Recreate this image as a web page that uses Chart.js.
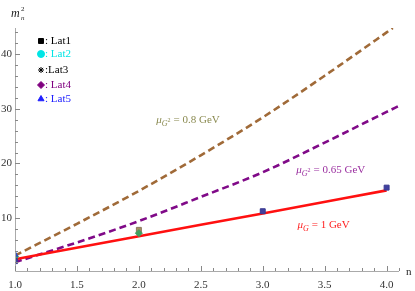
<!DOCTYPE html>
<html>
<head>
<meta charset="utf-8">
<script src="https://cdn.jsdelivr.net/npm/chart.js@4"></script>
<style>
  body { margin: 0; background: #fff; }
  #wrap { width: 415px; height: 291px; }
</style>
</head>
<body>
<div id="wrap"><canvas id="myChart" width="415" height="291"></canvas></div>
<script>
// tick labels
var xTicks = [1.0, 1.5, 2.0, 2.5, 3.0, 3.5, 4.0];
var yTicks = [10, 20, 30, 40];

// curves (n, m_n^2)
var brownN = [1, 1.5, 2, 2.5, 3, 3.5, 4, 4.05];
var brownM2 = [3.2, 9.0, 15.0, 21.5, 28.4, 36.0, 43.9, 44.7];
var purpleN = [1, 1.5, 2, 2.5, 3, 3.5, 4, 4.1];
var purpleM2 = [2.0, 5.6, 9.5, 13.9, 18.4, 23.8, 29.4, 30.5];
var redN = [1, 2, 3, 4];
var redM2 = [2.55, 6.75, 10.9, 15.1];

// lattice points
var blueSqN = [1, 3, 4];
var blueSqM2 = [2.2, 11.3, 15.6];
var tanSqN = [1, 2];
var tanSqM2 = [2.4, 7.9];
var greenN = [1, 2];
var greenM2 = [3.0, 7.3];
var triN = [1];
var triM2 = [3.4];

// legend
var legendLabels = [": Lat1", ": Lat2", ":Lat3", ": Lat4", ": Lat5"];
var legendColors = ["#000000", "#00e5e5", "#000000", "#800080", "#2020ff"];
var legendShapes = ["rect", "circle", "star", "rectRot", "triangle"];

function pts(xs, ys) {
  return xs.map(function (x, i) { return { x: x, y: ys[i] }; });
}

var serif = "'Liberation Serif', 'DejaVu Serif', serif";

function drawMu(ctx, x, y, sub, sup, rest, color) {
  ctx.fillStyle = color;
  ctx.textBaseline = "alphabetic";
  ctx.textAlign = "left";
  ctx.font = "italic 11px " + serif;
  ctx.fillText("\u03bc", x, y);
  x += ctx.measureText("\u03bc").width;
  ctx.font = "italic 8px " + serif;
  ctx.fillText(sub, x, y + 3);
  x += ctx.measureText(sub).width;
  if (sup) {
    ctx.font = "6px " + serif;
    ctx.fillText(sup, x, y - 1);
    x += ctx.measureText(sup).width;
  }
  ctx.font = "11px " + serif;
  ctx.fillText(rest, x + 3, y);
}

var extras = {
  id: "extras",
  afterDraw: function (chart) {
    var ctx = chart.ctx;
    var xs = chart.scales.x, ys = chart.scales.y;
    var x0 = xs.left, y0 = ys.bottom;
    ctx.save();
    // axes
    ctx.strokeStyle = "#aaaaaa";
    ctx.lineWidth = 1;
    ctx.beginPath();
    ctx.moveTo(x0 + 0.5, ys.top);
    ctx.lineTo(x0 + 0.5, y0 + 0.5);
    ctx.lineTo(xs.right, y0 + 0.5);
    ctx.stroke();
    // ticks inside
    ctx.strokeStyle = "#888888";
    ctx.beginPath();
    for (var k = 10; k <= 41; k++) {
      var v = k / 10;
      var px = Math.round(xs.getPixelForValue(v)) + 0.5;
      var len = (k % 5 === 0) ? 5 : 3;
      ctx.moveTo(px, y0);
      ctx.lineTo(px, y0 - len);
    }
    for (var m = 2; m <= 44; m += 2) {
      var py = Math.round(ys.getPixelForValue(m)) + 0.5;
      var l2 = (m % 10 === 0) ? 5 : 3;
      ctx.moveTo(x0, py);
      ctx.lineTo(x0 + l2, py);
    }
    ctx.stroke();

    // axis labels
    ctx.fillStyle = "#222";
    ctx.textAlign = "left";
    ctx.textBaseline = "alphabetic";
    ctx.font = "italic 12px " + serif;
    ctx.fillText("m", 11, 17);
    ctx.font = "italic 7px " + serif;
    ctx.fillText("n", 21, 20);
    ctx.font = "7px " + serif;
    ctx.fillText("2", 21, 11);
    ctx.font = "11px " + serif;
    ctx.fillText("n", 406, 275);

    // curve labels
    drawMu(ctx, xs.getPixelForValue(2.14), ys.getPixelForValue(27.3), "G", "2", "= 0.8 GeV", "#8a8a50");
    drawMu(ctx, xs.getPixelForValue(3.27), ys.getPixelForValue(18.2), "G", "2", "= 0.65 GeV", "#9b30a0");
    drawMu(ctx, xs.getPixelForValue(3.28), ys.getPixelForValue(8.2), "G", "", "= 1 GeV", "#ff2020");

    // legend
    for (var i = 0; i < legendLabels.length; i++) {
      var ly = [41, 54, 70, 85, 99][i];
      ctx.fillStyle = legendColors[i];
      ctx.strokeStyle = legendColors[i];
      Chart.helpers.drawPoint(ctx, { pointStyle: legendShapes[i], radius: legendShapes[i] === "star" ? 3 : 3.5, rotation: 0, borderWidth: legendShapes[i] === "star" ? 1.6 : 1 }, 41, ly);
      ctx.font = "11px " + serif;
      ctx.textBaseline = "middle";
      ctx.fillText(legendLabels[i], 45, ly);
    }
    ctx.restore();
  }
};

var lineStyle = function (label, data, color, dash) {
  return {
    label: label,
    data: data,
    showLine: true,
    borderColor: color,
    backgroundColor: color,
    borderWidth: 2.6,
    borderDash: dash,
    pointRadius: 0,
    cubicInterpolationMode: "monotone"
  };
};

var config = {
  type: "scatter",
  data: {
    datasets: [
      { label: "blue", data: pts(blueSqN, blueSqM2), pointStyle: "rect", pointRadius: 3.5, backgroundColor: "#4040a0", borderColor: "#3a3a90", borderWidth: 1 },
      { label: "tri", data: pts(triN, triM2), pointStyle: "triangle", pointRadius: 3.5, backgroundColor: "#3050c0", borderColor: "#3050c0", borderWidth: 1 },
      { label: "green", data: pts(greenN, greenM2), pointStyle: "rectRot", pointRadius: 3.5, backgroundColor: "#3fa060", borderColor: "#3fa060", borderWidth: 1 },
      { label: "tan", data: pts(tanSqN, tanSqM2), pointStyle: "rect", pointRadius: 3.5, backgroundColor: "#a89060", borderColor: "#8a7a60", borderWidth: 1 },
      lineStyle("mu 1 GeV", pts(redN, redM2), "#ff1010", []),
      lineStyle("mu 0.65 GeV", pts(purpleN, purpleM2), "#800a88", [7, 4]),
      lineStyle("mu 0.8 GeV", pts(brownN, brownM2), "#a06a38", [7, 4])
    ]
  },
  options: {
    responsive: false,
    animation: false,
    layout: { padding: { top: 28, right: 16, left: 0, bottom: 0 } },
    plugins: { legend: { display: false }, tooltip: { enabled: false } },
    scales: {
      x: {
        type: "linear",
        min: 1.0,
        max: 4.1,
        grid: { display: false, drawTicks: false },
        border: { display: false },
        afterBuildTicks: function (s) { s.ticks = xTicks.map(function (v) { return { value: v }; }); },
        afterFit: function (s) { s.height = 20; },
        ticks: {
          padding: 8,
          color: "#333",
          font: { family: serif, size: 11 },
          callback: function (v) { return v.toFixed(1); }
        }
      },
      y: {
        type: "linear",
        min: 0.4,
        max: 44.7,
        grid: { display: false, drawTicks: false },
        border: { display: false },
        afterBuildTicks: function (s) { s.ticks = yTicks.map(function (v) { return { value: v }; }); },
        afterFit: function (s) { s.width = 15; },
        ticks: {
          padding: 3,
          color: "#333",
          font: { family: serif, size: 11 }
        }
      }
    }
  },
  plugins: [extras]
};

var myChart = new Chart(document.getElementById("myChart"), config);
</script>
</body>
</html>
